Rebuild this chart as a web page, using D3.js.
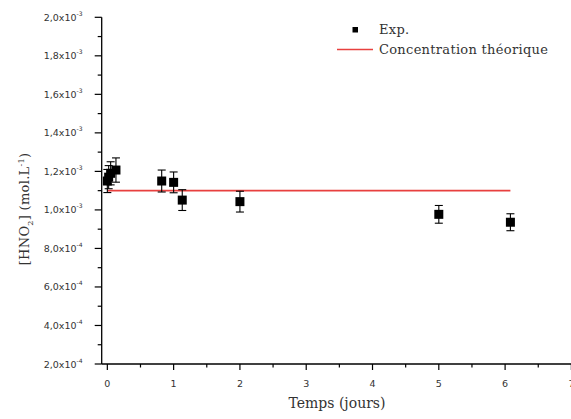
<!DOCTYPE html>
<html><head><meta charset="utf-8">
<script src="https://cdn.jsdelivr.net/npm/d3@7"></script>
<style>body{margin:0;background:#fff}svg{display:block}</style>
</head><body>
<script>
const times = [0, 0.02, 0.05, 0.13, 0.82, 1.0, 1.13, 2.0, 5.0, 6.08];
const conc = [1.15e-3, 1.17e-3, 1.19e-3, 1.207e-3, 1.150e-3, 1.143e-3, 1.051e-3, 1.043e-3, 0.977e-3, 0.936e-3];
const errs = [0.06e-3, 0.06e-3, 0.06e-3, 0.063e-3, 0.057e-3, 0.054e-3, 0.054e-3, 0.054e-3, 0.046e-3, 0.044e-3];
const theoX = [0, 6.08];
const theoY = 1.1e-3;
const xTicks = [0,1,2,3,4,5,6,7];
const yTickMant = ["2,0","4,0","6,0","8,0","1,0","1,2","1,4","1,6","1,8","2,0"];
const yTickExp = ["-4","-4","-4","-4","-3","-3","-3","-3","-3","-3"];
const yTickVals = [2e-4,4e-4,6e-4,8e-4,1e-3,1.2e-3,1.4e-3,1.6e-3,1.8e-3,2e-3];
const legendLabels = ["Exp.", "Concentration théorique"];

const W=571,H=419;
const svg=d3.select("body").append("svg").attr("width",W).attr("height",H);
const x=d3.scaleLinear().domain([-0.085,7]).range([101.7,571.4]);
const y=d3.scaleLinear().domain([2e-4,2e-3]).range([364,17.3]);
const tickFont="DejaVu Sans", serif="DejaVu Serif";

// axes
const gx=svg.append("g").attr("transform","translate(0,364)");
gx.append("line").attr("x1",x.range()[0]).attr("x2",W).attr("stroke","#000").attr("stroke-width",1.3);
gx.selectAll(".mj").data(xTicks).join("line").attr("x1",d=>x(d)).attr("x2",d=>x(d)).attr("y1",0).attr("y2",6).attr("stroke","#000").attr("stroke-width",1.2);
gx.selectAll(".mn").data(d3.range(0.5,7,1)).join("line").attr("x1",d=>x(d)).attr("x2",d=>x(d)).attr("y1",0).attr("y2",3.5).attr("stroke","#000").attr("stroke-width",1.2);
gx.selectAll("text").data(xTicks).join("text").attr("x",d=>x(d)).attr("y",23).attr("text-anchor","middle")
  .attr("font-family",tickFont).attr("font-size",9.5).attr("fill","#333").text(d=>d);

const gy=svg.append("g").attr("transform","translate(101.7,0)");
gy.append("line").attr("y1",y(2e-4)).attr("y2",y(2e-3)).attr("stroke","#000").attr("stroke-width",1.3);
gy.selectAll(".mj").data(yTickVals).join("line").attr("x1",-7).attr("x2",0).attr("y1",d=>y(d)).attr("y2",d=>y(d)).attr("stroke","#000").attr("stroke-width",1.2);
gy.selectAll(".mn").data(d3.range(3e-4,2e-3,2e-4)).join("line").attr("x1",-4).attr("x2",0).attr("y1",d=>y(d)).attr("y2",d=>y(d)).attr("stroke","#000").attr("stroke-width",1.2);
const lab=gy.selectAll("text").data(yTickVals).join("text").attr("x",-58).attr("y",d=>y(d)+3.5)
  .attr("font-family",tickFont).attr("font-size",9.5).attr("fill","#333");
lab.append("tspan").text((d,i)=>yTickMant[i]+"x10");
lab.append("tspan").attr("dy",-5).attr("font-size",6).text((d,i)=>yTickExp[i]);

// theoretical line
svg.append("line").attr("x1",x(theoX[0])).attr("x2",x(theoX[1])).attr("y1",y(theoY)).attr("y2",y(theoY))
  .attr("stroke","#e8403f").attr("stroke-width",1.6);

// error bars
const data=times.map((t,i)=>({t,c:conc[i],e:errs[i]}));
const ge=svg.append("g").attr("stroke","#000").attr("stroke-width",1.1);
data.forEach(d=>{
  const cx=x(d.t);
  ge.append("line").attr("x1",cx).attr("x2",cx).attr("y1",y(d.c+d.e)).attr("y2",y(d.c-d.e));
  ge.append("line").attr("x1",cx-4).attr("x2",cx+4).attr("y1",y(d.c+d.e)).attr("y2",y(d.c+d.e));
  ge.append("line").attr("x1",cx-4).attr("x2",cx+4).attr("y1",y(d.c-d.e)).attr("y2",y(d.c-d.e));
});
svg.selectAll(".pt").data(data).join("rect").attr("x",d=>x(d.t)-4.5).attr("y",d=>y(d.c)-4.5).attr("width",9).attr("height",9).attr("fill","#000");

// legend
svg.append("rect").attr("x",352.5).attr("y",27).attr("width",5.5).attr("height",5.5).attr("fill","#000");
svg.append("text").attr("x",379).attr("y",34).attr("font-family",serif).attr("font-size",13).attr("letter-spacing",0.3).attr("fill","#333").text(legendLabels[0]);
svg.append("line").attr("x1",337).attr("x2",373).attr("y1",49.5).attr("y2",49.5).attr("stroke","#e8403f").attr("stroke-width",1.4);
svg.append("text").attr("x",379).attr("y",54).attr("font-family",serif).attr("font-size",13).attr("letter-spacing",0.3).attr("fill","#333").text(legendLabels[1]);

// axis titles
svg.append("text").attr("x",337).attr("y",408).attr("text-anchor","middle").attr("font-family",serif).attr("font-size",14).attr("fill","#333").text("Temps (jours)");
const yt=svg.append("text").attr("transform","translate(29,209) rotate(-90)").attr("text-anchor","middle").attr("font-family",serif).attr("font-size",13).attr("letter-spacing",0.3).attr("fill","#333");
yt.append("tspan").text("[HNO");
yt.append("tspan").attr("dy",4).attr("font-size",8).text("2");
yt.append("tspan").attr("dy",-4).text("] (mol.L");
yt.append("tspan").attr("dy",-5).attr("font-size",8).text("-1");
yt.append("tspan").attr("dy",5).text(")");
</script>
</body></html>
